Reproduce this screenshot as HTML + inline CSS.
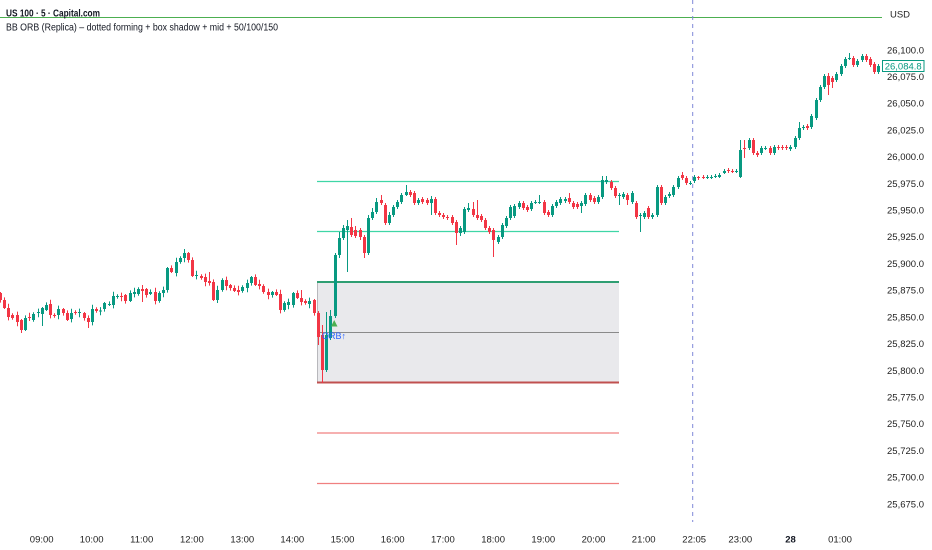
<!DOCTYPE html>
<html>
<head>
<meta charset="utf-8">
<style>
html,body{margin:0;padding:0;background:#fff;}
body{width:932px;height:550px;overflow:hidden;}
svg{display:block;}
text{font-family:"Liberation Sans",Arial,sans-serif;}
</style>
</head>
<body>
<svg id="c" width="932" height="550" viewBox="0 0 932 550" xmlns="http://www.w3.org/2000/svg">
<rect x="0" y="0" width="932" height="550" fill="#ffffff"/>

<!-- top green line -->
<line x1="0" y1="17.5" x2="882" y2="17.5" stroke="#4caf50" stroke-width="1"/>

<!-- ORB box -->
<rect x="317.5" y="282" width="301.5" height="101" fill="#e9e9ec"/>
<line x1="317.5" y1="282" x2="317.5" y2="383" stroke="#b8b8bc" stroke-width="1"/>
<line x1="317" y1="282" x2="619" y2="282" stroke="#2f9e72" stroke-width="2"/>
<line x1="317" y1="332.5" x2="619" y2="332.5" stroke="#8a8a8a" stroke-width="1"/>
<line x1="317" y1="382.5" x2="619" y2="382.5" stroke="#c0504f" stroke-width="2"/>
<line x1="317" y1="181.5" x2="619" y2="181.5" stroke="#3fd6a6" stroke-width="1.3"/>
<line x1="317" y1="231.5" x2="619" y2="231.5" stroke="#3fd6a6" stroke-width="1.3"/>
<line x1="317" y1="433" x2="619" y2="433" stroke="#f08080" stroke-width="1.3"/>
<line x1="317" y1="483.5" x2="619" y2="483.5" stroke="#f08080" stroke-width="1.3"/>

<!-- dashed vertical -->
<line x1="692.7" y1="0" x2="692.7" y2="522" stroke="#7f88d8" stroke-width="1" stroke-dasharray="4,4"/>

<g id="candles"></g>

<!-- ORB marker -->
<polygon points="331,326.5 337.5,326.5 334.2,320" fill="#4caf50"/>
<text x="322" y="339" font-size="9" fill="#2962ff">ORB↑</text>

<!-- titles -->
<text x="6" y="16.5" font-size="10" font-weight="bold" fill="#131722" textLength="94" lengthAdjust="spacingAndGlyphs">US 100 · 5 · Capital.com</text>
<text x="6" y="30.5" font-size="10" fill="#131722" textLength="272" lengthAdjust="spacingAndGlyphs">BB ORB (Replica) – dotted forming + box shadow + mid + 50/100/150</text>

<!-- right axis -->
<g font-size="9.5" fill="#222" text-anchor="end">
<text x="900" y="17.7" text-anchor="middle">USD</text>
<text x="924" y="53.3">26,100.0</text>
<text x="924" y="80">26,075.0</text>
<text x="924" y="106.7">26,050.0</text>
<text x="924" y="133.4">26,025.0</text>
<text x="924" y="160.1">26,000.0</text>
<text x="924" y="186.8">25,975.0</text>
<text x="924" y="213.5">25,950.0</text>
<text x="924" y="240.2">25,925.0</text>
<text x="924" y="266.9">25,900.0</text>
<text x="924" y="293.7">25,875.0</text>
<text x="924" y="320.4">25,850.0</text>
<text x="924" y="347.1">25,825.0</text>
<text x="924" y="373.8">25,800.0</text>
<text x="924" y="400.5">25,775.0</text>
<text x="924" y="427.2">25,750.0</text>
<text x="924" y="453.9">25,725.0</text>
<text x="924" y="480.6">25,700.0</text>
<text x="924" y="507.3">25,675.0</text>
</g>

<!-- current price label -->
<rect x="882.5" y="60.5" width="41.5" height="11" fill="#ffffff" stroke="#089981" stroke-width="1"/>
<text x="903.2" y="69.3" font-size="9.5" fill="#089981" text-anchor="middle">26,084.8</text>

<!-- bottom axis -->
<g font-size="9.5" fill="#222" text-anchor="middle">
<text x="41.7" y="542.5">09:00</text>
<text x="91.7" y="542.5">10:00</text>
<text x="141.7" y="542.5">11:00</text>
<text x="191.9" y="542.5">12:00</text>
<text x="242.3" y="542.5">13:00</text>
<text x="292.3" y="542.5">14:00</text>
<text x="342.5" y="542.5">15:00</text>
<text x="392.7" y="542.5">16:00</text>
<text x="442.9" y="542.5">17:00</text>
<text x="493.1" y="542.5">18:00</text>
<text x="543.3" y="542.5">19:00</text>
<text x="593.5" y="542.5">20:00</text>
<text x="643.7" y="542.5">21:00</text>
<text x="694.2" y="542.5">22:05</text>
<text x="740.3" y="542.5">23:00</text>
<text x="790.5" y="542.5" font-weight="bold" fill="#131722">28</text>
<text x="840" y="542.5">01:00</text>
</g>
</svg>

<script>
(function(){
var D=[
[293,300],[300,308],[308,317],[315,318],[315,322],[320,330,,333],[330,318],[317,317.6],[320,314],[313,312],
[314,308,,326],[310,305],[304,315],[315,316],[315,309],[309,313],[313,320],[319,313],[312,313],[313,312],
[313,318],[318,322,,328],[322,309],[309,311],[311,310.5],[309,303],[305,304],[305,296],[297,296],[296,297],
[295,301],[301,293],[294,292],[294,289],[289,291,285,302],[289,295],[294,292],[292,301],[301,293],[293,290],
[290,268],[268,272],[273,262],[262,258],[258,253,249],[253,260],[260,276],[276,275],[276,278],[277,282],
[281,283,272],[282,300],[300,290,,303],[290,280],[280,286],[285,288],[288,291],[290,292],[291,287],[288,283],
[283,277],[277,285],[284,286],[286,292],[292,295],[295,292],[292,295],[294,310],[310,303],[305,302],
[305,293],[293,298],[298,302,290],[301,303],[304,301],[300,313],
[313,337,311,345],[335,370,325,383],[370,335,312,372],[338,316,310,340],[316,255,253,318],
[255,238,232,258],[238,228,225,240],[230,226,220,272],[227,235,218,237],[230,236,226,238],
[230,237,228,240],[237,253,235,258],[253,218,215,255],[218,212,208,220],[212,202,198,214],
[200,203,195,205],[205,223,203,225],[223,215,212,225],[215,207,205,217],[207,202,200,209],
[202,195,193,204],[195,192,185,196],[192,195,190,197],[193,203,191,205],[203,200,198,205],
[199,202,197,204],[200,203,198,205],[203,199,196,215],[199,213,197,215],[213,215,211,217],
[215,217,213,219],[217,218,215,220],[217,223,215,225],[222,233,220,245],[233,228,226,236],
[232,209,207,234],[210,208,203,212],[209,215,202,217],[215,218,200,220],[216,220,214,222],
[220,228,218,230],[228,232,226,234],[230,240,228,257],[242,237,235,244],[237,225,223,239],
[226,218,216,228],[218,207,205,220],[216,206,204,218],[207,203,201,209],[203,208,201,210],
[207,210,205,212],[209,203,201,211],[203,202,200,204],[202.5,202,195,204],[202,213,200,215],
[212,215,210,217],[215,206,204,217],[206,202,200,208],[203,199,197,205],[201,199,197,203],
[198,202,193,204],[203,207,201,209],[204,207,202,209],[206,203,201,213],[204,195,193,206],
[195,200,193,202],[198,202,196,204],[202,197,195,204],[197,180,176,199],[182,180,176,184],
[182,188,180,190],[188,196,186,198],[195.5,195,193,205],[197,194,192,199],[195,200,193,205],
[202,193,191,204],[203,217,201,219],[216,215,213,232],[217,213,211,219],[208,217,206,219],
[217,215,213,219],[215,187,185,217],[187,203,185,205],[203,197,195,205],[196,194,192,198],
[195,187,185,197],[187,178,176,189],[175,178,172,180],[178,183,176,185],[183.5,183,181,185],
[181,177,175,183],[177,178,176,180],[177,177.6,175,179],[177.5,177,175,179],[177.5,177,175,179],
[177,176,174,178],[177,175,173,178],[173,171,169,174],[170,171,168,173],[171,171.6,169,173],
[171.5,171,169,173],[177,150,140,178],[148,149,140,158],[148,140,138,150],[140,153,138,155],
[153,155,151,157],[153,148,146,155],[148.5,148,146,150],[148,153,146,155],[153,147,145,155],
[147,148,145,150],[147,148,145,150],[147,148,145,150],[149,147,145,151],[147,138,136,149],
[138,128,122,140],[127.5,127,125,130],[126,128,124,130],[127,116,114,129],[118,100,98,120],
[100,87,85,102],[87,76,74,89],[76,85,73,95],[78,82,76,88],[80,74,72,82],
[74,66,64,76],[66,59,57,68],[58.5,58,53,60],[58,65,56,67],[65,61,59,67],
[60,56,54,62],[56,60,54,62],[59,65,57,67],[64,72,62,74],[72,66,64,74]
];
var G='#089981',R='#f23645',s='';
for(var k=0;k<D.length;k++){
  var d=D[k],i=k-10,x=41.7+4.183*i,xr=Math.round(x);
  var o=d[0],c=d[1];
  var top=Math.min(o,c),bot=Math.max(o,c);
  var w1=1+((k*37)%5)*0.8,w2=1+((k*53+2)%5)*0.8;
  var h=(d[2]!==undefined&&d[2]!==null)?d[2]:top-w1;
  var l=(d[3]!==undefined&&d[3]!==null)?d[3]:bot+w2;
  var col=(c<=o)?G:R;
  var bh=Math.max(bot-top,1);
  s+='<line x1="'+(xr+0.5)+'" y1="'+h+'" x2="'+(xr+0.5)+'" y2="'+l+'" stroke="'+col+'" stroke-width="1"/>';
  s+='<rect x="'+(xr-1)+'" y="'+top+'" width="3" height="'+bh+'" fill="'+col+'"/>';
}
document.getElementById('candles').innerHTML=s;
})();
</script>
</body>
</html>
